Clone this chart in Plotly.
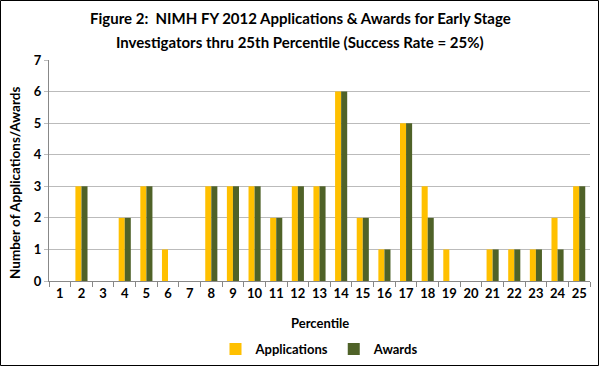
import plotly.graph_objects as go

percentiles = [str(i) for i in range(1, 26)]
applications = [0, 3, 0, 2, 3, 1, 0, 3, 3, 3, 2, 3, 3, 6, 2, 1, 5, 3, 1, 0, 1, 1, 1, 2, 3]
awards =       [0, 3, 0, 2, 3, 0, 0, 3, 3, 3, 2, 3, 3, 6, 2, 1, 5, 2, 0, 0, 1, 1, 1, 1, 3]
title_lines = ["Figure 2:  NIMH FY 2012 Applications & Awards for Early Stage",
               "Investigators thru 25th Percentile (Success Rate = 25%)"]

FONT = "Lato"
fig = go.Figure()
fig.add_trace(go.Bar(x=percentiles, y=applications, name="Applications", marker_color="#FFC000", marker_line_width=0))
fig.add_trace(go.Bar(x=percentiles, y=awards, name="Awards", marker_color="#4F6228", marker_line_width=0))

L, R, T, B = 49, 10, 60, 86
W, H = 600, 367
pw, ph = W - L - R, H - T - B

def px_x(x):
    return (x - L) / pw

def px_y(y):
    return (H - B - y) / ph

annotations = [
    dict(text="<b>%s</b>" % title_lines[0], xref="paper", yref="paper", x=px_x(300), y=px_y(18),
         xanchor="center", yanchor="middle", showarrow=False, font=dict(family=FONT, size=15)),
    dict(text="<b>%s</b>" % title_lines[1], xref="paper", yref="paper", x=px_x(300), y=px_y(42),
         xanchor="center", yanchor="middle", showarrow=False, font=dict(family=FONT, size=15)),
    dict(text="<b>Number of Applications/Awards</b>", xref="paper", yref="paper", x=px_x(15), y=px_y(183),
         xanchor="center", yanchor="middle", textangle=-90, showarrow=False, font=dict(family=FONT, size=13.5)),
    dict(text="<b>Percentile</b>", xref="paper", yref="paper", x=0.5, y=px_y(323),
         xanchor="center", yanchor="middle", showarrow=False, font=dict(family=FONT, size=13)),
]

fig.update_layout(
    width=W, height=H,
    margin=dict(l=L, r=R, t=T, b=B, autoexpand=False),
    paper_bgcolor="white", plot_bgcolor="white",
    barmode="group", bargap=0.44, bargroupgap=0,
    font=dict(family=FONT, size=12, color="black"),
    legend=dict(orientation="h", x=0.5, xanchor="center", yref="paper", y=px_y(349), yanchor="middle",
                bgcolor="rgba(0,0,0,0)", font=dict(family=FONT, size=13, weight="bold"),
                traceorder="normal", itemwidth=30),
    xaxis=dict(type="category", showgrid=False, ticks="outside", tickson="boundaries", ticklen=5,
               tickcolor="#888888", showline=True, linecolor="#888888", linewidth=1, tickangle=0,
               automargin=False,
               tickfont=dict(family=FONT, size=13, weight="bold")),
    yaxis=dict(range=[0, 7], dtick=1, showgrid=True, gridcolor="#BBBBBB", gridwidth=1,
               showline=True, linecolor="#888888", ticks="outside", ticklen=4, tickcolor="#BBBBBB",
               zeroline=False, automargin=False, tickfont=dict(family=FONT, size=13, weight="bold")),
    annotations=annotations,
    shapes=[dict(type="rect", xref="paper", yref="paper", layer="above",
                 x0=px_x(0.5), x1=px_x(W - 1.5), y0=px_y(H - 1.5), y1=px_y(0.5),
                 line=dict(color="black", width=1), fillcolor="rgba(0,0,0,0)")],
)
fig.write_html("out.html", config={"displayModeBar": False},
               post_script="document.body.style.margin='0';document.body.style.overflow='hidden';")
